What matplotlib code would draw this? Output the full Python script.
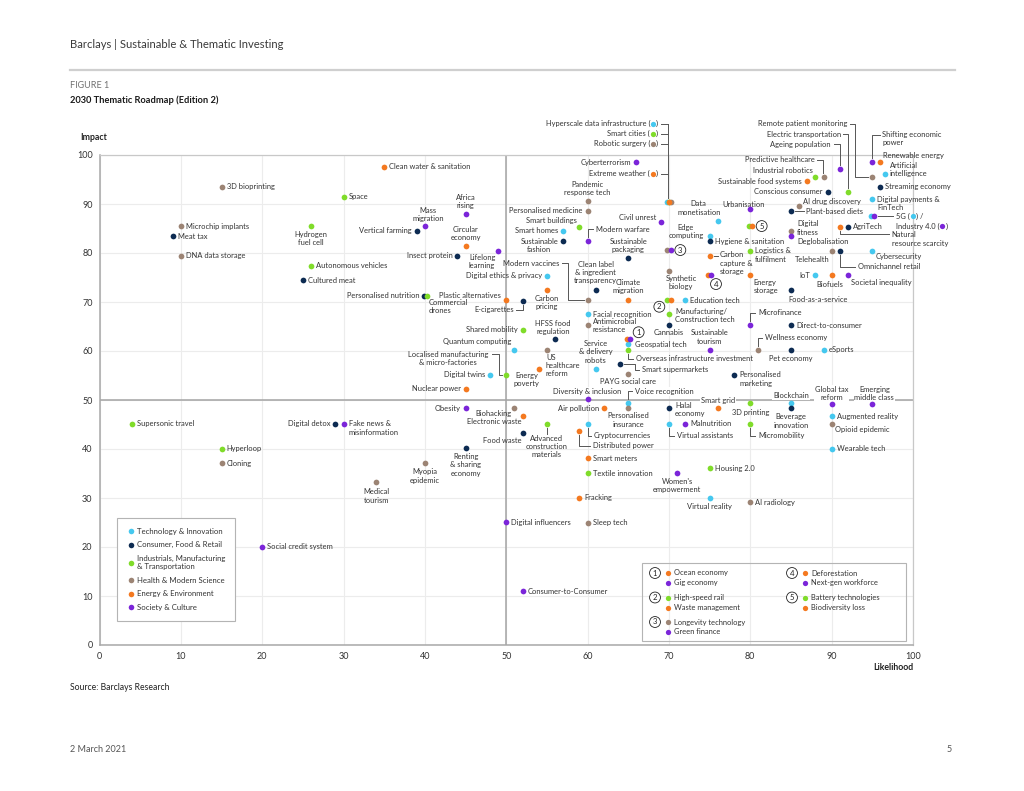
"""Barclays 2030 Thematic Roadmap (Edition 2): likelihood vs impact scatter."""

import matplotlib

matplotlib.use("Agg")
import matplotlib.pyplot as plt
from matplotlib.lines import Line2D
from matplotlib.patches import Rectangle
from matplotlib.transforms import IdentityTransform

W, H = 1024, 791
plt.rcParams["font.family"] = ["Lato", "DejaVu Sans"]

TXT = "#333333"
FS = 5.4
PX = IdentityTransform()

SECTOR_NAMES = [
    "Technology & Innovation",
    "Consumer, Food & Retail",
    "Industrials, Manufacturing\n& Transportation",
    "Health & Modern Science",
    "Energy & Environment",
    "Society & Culture",
]
SECTOR_COLORS = ["#45c8ef", "#0d2b52", "#80dc2a", "#9c8474", "#f47920", "#7b25d9"]

# ---- data: (likelihood, impact) per theme, one block per sector ----
tech_themes = [
    "Hyperscale data infrastructure", "Artificial intelligence", "Digital payments & FinTech", "5G",
    "Data monetisation", "Smart homes", "Edge computing", "Cybersecurity", "Digital ethics & privacy",
    "IoT", "Education tech", "Facial recognition", "Quantum computing", "Geospatial tech", "eSports",
    "Service & delivery robots", "Digital twins", "Voice recognition", "Blockchain", "Augmented reality",
    "Cryptocurrencies", "Virtual assistants", "Wearable tech", "Virtual reality",
]
tech_likelihood = [69.8, 96.5, 95, 94.8, 76, 57, 75, 95, 55, 88, 72, 60, 51, 65, 89, 61, 48, 65, 85, 90, 60, 70, 90, 75]
tech_impact = [90.5, 96.1, 91, 87.5, 86.6, 84.5, 83.5, 80.5, 75.4, 75.5, 70.4, 67.5, 60.3, 61.4, 60.3,
               56.4, 55.2, 49.3, 49.3, 46.7, 45.2, 45.2, 40.1, 30.1]

consumer_themes = [
    "Conscious consumer", "Streaming economy", "Plant-based diets", "Vertical farming", "AgriTech",
    "Meat tax", "Sustainable fashion", "Hygiene & sanitation", "Insect protein", "Sustainable packaging",
    "Omnichannel retail", "Cultured meat", "Clean label & ingredient transparency", "Food-as-a-service",
    "Personalised nutrition", "E-cigarettes", "Cannabis", "Direct-to-consumer", "HFSS food regulation",
    "Pet economy", "Smart supermarkets", "Personalised marketing", "Halal economy", "Beverage innovation",
    "Digital detox", "Food waste", "Renting & sharing economy",
]
consumer_likelihood = [89.5, 96, 85, 39, 92, 9, 57, 75, 44, 65, 91, 25, 61, 85, 39.9, 52, 70, 85, 56, 85,
                       64, 78, 70, 85, 29, 52, 45]
consumer_impact = [92.5, 93.5, 88.5, 84.5, 85.4, 83.4, 82.4, 82.4, 79.4, 79, 80.5, 74.4, 72.4, 72.4, 71.3,
                   70.3, 65.4, 65.3, 62.4, 60.3, 57.3, 55.2, 48.3, 48.3, 45.2, 43.2, 40.3]

industrial_themes = [
    "Smart cities", "Industrial robotics", "Electric transportation", "Space", "Smart buildings",
    "Hydrogen fuel cell", "Logistics & fulfilment", "Autonomous vehicles", "Commercial drones",
    "Manufacturing/Construction tech", "Shared mobility", "Overseas infrastructure investment",
    "Localised manufacturing & micro-factories", "3D printing", "Supersonic travel",
    "Advanced construction materials", "Micromobility", "Hyperloop", "Housing 2.0", "Textile innovation",
    "High-speed rail", "Battery technologies",
]
industrial_likelihood = [70, 88, 92, 30, 59, 26, 80, 26, 40.2, 70, 52, 65, 50, 80, 4, 55, 80, 15, 75, 60, 69.8, 79.8]
industrial_impact = [90.5, 95.6, 92.5, 91.5, 85.4, 85.5, 80.5, 77.4, 71.3, 67.5, 64.3, 60.3, 55.2, 49.3,
                     45.2, 45.2, 45.2, 40.1, 36.1, 35.1, 70.4, 85.5]

health_themes = [
    "Robotic surgery", "Remote patient monitoring", "Predictive healthcare", "3D bioprinting",
    "Pandemic response tech", "Personalised medicine", "AI drug discovery", "Microchip implants",
    "Digital fitness", "Telehealth", "DNA data storage", "Synthetic biology", "Modern vaccines",
    "Antimicrobial resistance", "US healthcare reform", "Wellness economy", "PAYG social care", "Biohacking",
    "Personalised insurance", "Opioid epidemic", "Cloning", "Myopia epidemic", "Medical tourism",
    "AI radiology", "Sleep tech", "Longevity technology",
]
health_likelihood = [70.2, 95, 89, 15, 60, 60, 86, 10, 85, 90, 10, 70, 60, 60, 55, 81, 65, 51, 65, 90, 15,
                     40, 34, 80, 60, 69.8]
health_impact = [90.5, 95.6, 95.6, 93.5, 90.6, 88.6, 89.5, 85.5, 84.5, 80.5, 79.4, 76.4, 70.4, 65.4, 60.3,
                 60.3, 55.3, 48.3, 48.3, 45.2, 37.1, 37.2, 33.2, 29.1, 25, 80.6]

energy_themes = [
    "Clean water & sanitation", "Extreme weather", "Renewable energy", "Sustainable food systems",
    "Circular economy", "Natural resource scarcity", "Carbon capture & storage", "Energy storage",
    "Biofuels", "Carbon pricing", "Climate migration", "Plastic alternatives", "Energy poverty",
    "Nuclear power", "Air pollution", "Smart grid", "Electronic waste", "Distributed power",
    "Smart meters", "Fracking", "Ocean economy", "Waste management", "Deforestation", "Biodiversity loss",
]
energy_likelihood = [35, 70, 96, 87, 45, 91, 75, 80, 90, 55, 65, 50, 54, 45, 62, 76, 52, 59, 60, 59,
                     64.8, 70.2, 74.8, 80.2]
energy_impact = [97.6, 90.5, 98.6, 94.6, 81.4, 85.4, 79.4, 75.6, 75.5, 72.4, 70.4, 70.4, 56.3, 52.3, 48.3,
                 48.3, 46.8, 43.7, 38.1, 30.1, 62.4, 70.4, 75.5, 85.5]

society_themes = [
    "Cyberterrorism", "Ageing population", "Shifting economic power", "Industry 4.0", "Africa rising",
    "Urbanisation", "Civil unrest", "Mass migration", "Modern warfare", "Deglobalisation",
    "Lifelong learning", "Societal inequality", "Microfinance", "Sustainable tourism",
    "Diversity & inclusion", "Global tax reform", "Emerging middle class", "Obesity",
    "Fake news & misinformation", "Malnutrition", "Women's empowerment", "Digital influencers",
    "Social credit system", "Consumer-to-Consumer", "Gig economy", "Green finance", "Next-gen workforce",
]
society_likelihood = [66, 91, 95, 95.2, 45, 80, 69, 40, 60, 85, 49, 92, 80, 75, 60, 90, 95, 45, 30, 72, 71,
                      50, 20, 52, 65.2, 70.2, 75.2]
society_impact = [98.5, 97.1, 98.6, 87.5, 88, 89, 86.3, 85.5, 82.4, 83.5, 80.5, 75.5, 65.4, 60.3, 50.3, 49.2,
                  49.2, 48.3, 45.2, 45.2, 35.2, 25.1, 20, 11, 62.4, 80.6, 75.5]

SECTORS = [
    (tech_themes, tech_likelihood, tech_impact),
    (consumer_themes, consumer_likelihood, consumer_impact),
    (industrial_themes, industrial_likelihood, industrial_impact),
    (health_themes, health_likelihood, health_impact),
    (energy_themes, energy_likelihood, energy_impact),
    (society_themes, society_likelihood, society_impact),
]

# themes grouped under a circled number
CLUSTERS = [
    ("1", ["Ocean economy", "Gig economy"]),
    ("2", ["High-speed rail", "Waste management"]),
    ("3", ["Longevity technology", "Green finance"]),
    ("4", ["Deforestation", "Next-gen workforce"]),
    ("5", ["Battery technologies", "Biodiversity loss"]),
]

# ---- label layout: text, offset in pixels from the dot, alignment ----
LABELS = {
    "Artificial intelligence": ("Artificial\nintelligence", 5, 4.5, "left", "center"),
    "Digital payments & FinTech": ("Digital payments &\nFinTech", 5, -4.5, "left", "center"),
    "Data monetisation": ("Data\nmonetisation", -19, 5, "center", "bottom"),
    "Smart homes": "l",
    "Edge computing": ("Edge\ncomputing", -6, 4, "right", "center"),
    "Cybersecurity": ("Cybersecurity", 3, -6, "left", "center"),
    "Digital ethics & privacy": "l",
    "IoT": "l",
    "Quantum computing": ("Quantum computing", -3, 7.6, "right", "center"),
    "Geospatial tech": ("Geospatial tech", 7, 0, "left", "center"),
    "Service & delivery robots": ("Service\n& delivery\nrobots", 0, 5, "center", "bottom"),
    "Digital twins": "l",
    "Voice recognition": ("Voice recognition", 7, 12, "left", "center"),
    "Blockchain": ("Blockchain", 0, 7.6, "center", "center"),
    "Cryptocurrencies": ("Cryptocurrencies", 6, -12, "left", "center"),
    "Virtual assistants": ("Virtual assistants", 8, -12, "left", "center"),
    "Virtual reality": ("Virtual reality", 0, -9, "center", "center"),
    "Conscious consumer": "l",
    "Plant-based diets": ("Plant-based diets", 15, 0, "left", "center"),
    "Vertical farming": "l",
    "Sustainable fashion": ("Sustainable\nfashion", -5, -4.5, "right", "center"),
    "Insect protein": "l",
    "Sustainable packaging": ("Sustainable\npackaging", 0, 5, "center", "bottom"),
    "Omnichannel retail": ("Omnichannel retail", 18, -16.3, "left", "center"),
    "Clean label & ingredient transparency": ("Clean label\n& ingredient\ntransparency", 0, 6, "center", "bottom"),
    "Food-as-a-service": ("Food-as-a-service", -3, -9, "left", "center"),
    "Personalised nutrition": "l",
    "E-cigarettes": ("E-cigarettes", -9, -9, "right", "center"),
    "Cannabis": ("Cannabis", 0, -8, "center", "center"),
    "HFSS food regulation": ("HFSS food\nregulation", -2, 4, "center", "bottom"),
    "Pet economy": ("Pet economy", 0, -9, "center", "center"),
    "Smart supermarkets": ("Smart supermarkets", 22, -5.7, "left", "center"),
    "Personalised marketing": ("Personalised\nmarketing", 5, -4.5, "left", "center"),
    "Halal economy": ("Halal\neconomy", 6, -1, "left", "center"),
    "Beverage innovation": ("Beverage\ninnovation", 0, -5, "center", "top"),
    "Digital detox": "l",
    "Food waste": ("Food waste", -1, -6.7, "right", "center"),
    "Renting & sharing economy": ("Renting\n& sharing\neconomy", 0, -5.6, "center", "top"),
    "Industrial robotics": ("Industrial robotics", -3, 6, "right", "center"),
    "Electric transportation": ("Electric transportation", -7, 57.7, "right", "center"),
    "Smart buildings": ("Smart buildings", -3, 6, "right", "center"),
    "Hydrogen fuel cell": ("Hydrogen\nfuel cell", 0, -5, "center", "top"),
    "Logistics & fulfilment": ("Logistics &\nfulfilment", 5, -4.5, "left", "center"),
    "Commercial drones": ("Commercial\ndrones", 2, -3, "left", "top"),
    "Manufacturing/Construction tech": ("Manufacturing/\nConstruction tech", 6, -1, "left", "center"),
    "Shared mobility": "l",
    "Overseas infrastructure investment": ("Overseas infrastructure investment", 8, -9, "left", "center"),
    "Localised manufacturing & micro-factories": ("Localised manufacturing\n& micro-factories", -17.7, 16, "right", "center"),
    "3D printing": ("3D printing", 0.5, -9, "center", "center"),
    "Advanced construction materials": ("Advanced\nconstruction\nmaterials", 0, -11, "center", "top"),
    "Micromobility": ("Micromobility", 8, -12, "left", "center"),
    "Remote patient monitoring": ("Remote patient monitoring", -25, 52.7, "right", "center"),
    "Predictive healthcare": ("Predictive healthcare", -9, 16.7, "right", "center"),
    "Pandemic response tech": ("Pandemic\nresponse tech", 0, 5, "center", "bottom"),
    "Personalised medicine": "l",
    "AI drug discovery": ("AI drug discovery", 4, 5, "left", "center"),
    "Digital fitness": ("Digital\nfitness", 6, 3, "left", "center"),
    "Telehealth": ("Telehealth", -19, -9, "center", "center"),
    "Synthetic biology": ("Synthetic\nbiology", 12, -4, "center", "top"),
    "Modern vaccines": ("Modern vaccines", -28, 37, "right", "center"),
    "Antimicrobial resistance": ("Antimicrobial\nresistance", 5, -1, "left", "center"),
    "US healthcare reform": ("US\nhealthcare\nreform", -1, -4, "left", "top"),
    "Wellness economy": ("Wellness economy", 7, 12, "left", "center"),
    "PAYG social care": ("PAYG social care", 0, -7.7, "center", "center"),
    "Biohacking": ("Biohacking", -3, -5, "right", "center"),
    "Personalised insurance": ("Personalised\ninsurance", 0, -4, "center", "top"),
    "Opioid epidemic": ("Opioid epidemic", 3, -6, "left", "center"),
    "Myopia epidemic": ("Myopia\nepidemic", 0, -5.6, "center", "top"),
    "Medical tourism": ("Medical\ntourism", 0, -6, "center", "top"),
    "Renewable energy": ("Renewable energy", 3, 6, "left", "center"),
    "Sustainable food systems": "l",
    "Circular economy": ("Circular\neconomy", 0, 5, "center", "bottom"),
    "Natural resource scarcity": ("Natural\nresource scarcity", 52, -4.9, "left", "top"),
    "Carbon capture & storage": ("Carbon\ncapture &\nstorage", 10, 4.5, "left", "top"),
    "Energy storage": ("Energy\nstorage", 3, -4, "left", "top"),
    "Biofuels": ("Biofuels", -2, -9, "center", "center"),
    "Carbon pricing": ("Carbon\npricing", 0, -5, "center", "top"),
    "Climate migration": ("Climate\nmigration", 0, 6, "center", "bottom"),
    "Plastic alternatives": ("Plastic alternatives", -5, 5, "right", "center"),
    "Energy poverty": ("Energy\npoverty", -12, -3, "center", "top"),
    "Nuclear power": "l",
    "Air pollution": "l",
    "Smart grid": ("Smart grid", 0, 7.6, "center", "center"),
    "Electronic waste": ("Electronic waste", -1, -6.3, "right", "center"),
    "Distributed power": ("Distributed power", 14, -14.7, "left", "center"),
    "Cyberterrorism": "l",
    "Ageing population": ("Ageing population", -9, 25, "right", "center"),
    "Shifting economic power": ("Shifting economic\npower", 10, 31, "left", "top"),
    "Africa rising": ("Africa\nrising", 0, 5, "center", "bottom"),
    "Urbanisation": ("Urbanisation", -7, 4.7, "center", "center"),
    "Civil unrest": ("Civil unrest", -4, 5, "right", "center"),
    "Mass migration": ("Mass\nmigration", 3, 4, "center", "bottom"),
    "Modern warfare": ("Modern warfare", 8, 12, "left", "center"),
    "Deglobalisation": ("Deglobalisation", 6, -6, "left", "center"),
    "Lifelong learning": ("Lifelong\nlearning", -16, -3, "center", "top"),
    "Societal inequality": ("Societal inequality", 3, -7, "left", "center"),
    "Microfinance": ("Microfinance", 8, 12, "left", "center"),
    "Sustainable tourism": ("Sustainable\ntourism", 0, 5, "center", "bottom"),
    "Diversity & inclusion": ("Diversity & inclusion", 0, 7.3, "center", "center"),
    "Global tax reform": ("Global tax\nreform", 0, 3, "center", "bottom"),
    "Emerging middle class": ("Emerging\nmiddle class", 2, 3, "center", "bottom"),
    "Obesity": "l",
    "Fake news & misinformation": ("Fake news &\nmisinformation", 5, -4.5, "left", "center"),
    "Women's empowerment": ("Women's\nempowerment", 0, -5, "center", "top"),
}
UNLABELLED = {"Hyperscale data infrastructure", "Smart cities", "Robotic surgery", "Extreme weather",
              "5G", "Industry 4.0"} | {n for _, names in CLUSTERS for n in names}
BOXED = {"Blockchain", "Smart grid", "Diversity & inclusion", "Global tax reform", "Emerging middle class",
         "Voice recognition"}

# leader lines, pixel offsets from the dot
CONNECTORS = {
    "Voice recognition": [(0, 4), (0, 12), (4, 12)],
    "Cryptocurrencies": [(0, -4), (0, -12), (3, -12)],
    "Virtual assistants": [(0, -4), (0, -12), (5, -12)],
    "Plant-based diets": [(4, 0), (13, 0)],
    "Omnichannel retail": [(0, -4), (0, -16.3), (15, -16.3)],
    "E-cigarettes": [(0, -4), (0, -9), (-7, -9)],
    "Smart supermarkets": [(4, 0), (15, 0), (15, -5.7), (19, -5.7)],
    "Electric transportation": [(-5, 57.7), (0.5, 57.7), (0.5, 4)],
    "Overseas infrastructure investment": [(0, -4), (0, -9), (5, -9)],
    "Localised manufacturing & micro-factories": [(-14.7, 20.3), (-7.4, 20.3), (-7.4, 0), (-4, 0)],
    "Advanced construction materials": [(0, -4), (0, -10)],
    "Micromobility": [(0, -4), (0, -12), (5, -12)],
    "Remote patient monitoring": [(-22, 52.7), (-17, 52.7), (-17, 0), (-4, 0)],
    "Predictive healthcare": [(-7, 16.7), (-1, 16.7), (-1, 4)],
    "Modern vaccines": [(-26, 37), (-20, 37), (-20, 0), (-4, 0)],
    "Wellness economy": [(0, 4), (0, 12), (4, 12)],
    "Natural resource scarcity": [(0, -4), (0, -7.4), (49, -7.4)],
    "Carbon capture & storage": [(4, 0), (8, 0)],
    "Distributed power": [(0, -4), (0, -14.7), (11, -14.7)],
    "Ageing population": [(-6, 25), (0, 25), (0, 4)],
    "Shifting economic power": [(0, 4), (0, 26.7), (8, 26.7)],
    "Modern warfare": [(0, 4), (0, 12), (5, 12)],
    "Microfinance": [(0, 4), (0, 12), (5, 12)],
    "5G": [(7, 0), (22, 0)],
}
# keyed labels stacked above the (70, 90) cluster: text, sector index, height above dot (px)
TOP_KEYS = [
    ("Hyperscale data infrastructure", 0, 77.7),
    ("Smart cities", 2, 67.7),
    ("Robotic surgery", 3, 57.7),
    ("Extreme weather", 4, 27.7),
]
# circled number offsets (px) from the first cluster member
TAG_OFFSETS = {"1": (12, 7), "2": (-8, -6.7), "3": (13, 0), "4": (8, -9), "5": (13, 0)}

fig = plt.figure(figsize=(W / 100, H / 100), dpi=100)
ax = fig.add_axes([99.5 / W, (H - 645) / H, 813.5 / W, 490 / H])
ax.set_xlim(0, 100)
ax.set_ylim(0, 100)
ax.set_xticks(range(0, 101, 10))
ax.set_yticks(range(0, 101, 10))
ax.grid(True, color="#ececec", lw=0.8, zorder=0)
ax.set_axisbelow(True)
ax.axvline(50, color="#a4a4a4", lw=1.1, zorder=1)
ax.axhline(50, color="#a4a4a4", lw=1.1, zorder=1)
ax.tick_params(length=0, labelsize=6.5, labelcolor=TXT, pad=5)
for side, sp in ax.spines.items():
    sp.set_color("#a8a8a8" if side in ("left", "bottom") else "#c8c8c8")
    sp.set_linewidth(1.1 if side in ("left", "bottom") else 0.9)

position = {}
for (names, xs, ys), color in zip(SECTORS, SECTOR_COLORS):
    ax.scatter(xs, ys, s=17, color=color, linewidths=0, zorder=5)
    for n, x, y in zip(names, xs, ys):
        position[n] = (x, y)


def dot_px(name):
    return ax.transData.transform(position[name])


def line_px(xs, ys, color="#555555", lw=0.7):
    fig.add_artist(Line2D(xs, ys, transform=PX, color=color, lw=lw))


for names, _, _ in SECTORS:
    for n in names:
        if n in UNLABELLED:
            continue
        spec = LABELS.get(n, "r")
        if spec == "r":
            spec = (n, 5, 0, "left", "center")
        elif spec == "l":
            spec = (n, -5, 0, "right", "center")
        text, dx, dy, ha, va = spec
        box = dict(boxstyle="square,pad=0.1", fc="white", ec="none") if n in BOXED else None
        ax.annotate(text, position[n], xytext=(dx, dy), textcoords="offset pixels", ha=ha, va=va,
                    multialignment="center" if ha != "left" else "left", fontsize=FS, color=TXT,
                    linespacing=1.2, bbox=box, zorder=4, annotation_clip=False)

for n, path in CONNECTORS.items():
    x0, y0 = dot_px(n)
    line_px([x0 + dx for dx, _ in path], [y0 + dy for _, dy in path])

renderer = fig.canvas.get_renderer()


def text_width(s):
    t = fig.text(0, 0, s, fontsize=FS)
    w = t.get_window_extent(renderer).width
    t.remove()
    return w


def rich_text(x, y, parts, align="left"):
    widths = [text_width(p) if isinstance(p, str) else 6.0 for p in parts]
    cur = x - sum(widths) if align == "right" else x
    for p, w in zip(parts, widths):
        if isinstance(p, str):
            fig.text(cur, y, p, transform=PX, fontsize=FS, color=TXT, ha="left", va="center")
        else:
            fig.add_artist(Line2D([cur + w / 2], [y], transform=PX, ls="", marker="o", ms=3.8,
                                  mew=0, color=p[1]))
        cur += w


cx, cy = dot_px("Hyperscale data infrastructure")
for text, si, dy in TOP_KEYS:
    rich_text(cx - 9, cy + dy, [text + " (", ("dot", SECTOR_COLORS[si]), ")"], align="right")
    line_px([cx - 6, cx + 0.7], [cy + dy, cy + dy])
line_px([cx + 0.7, cx + 0.7], [cy + TOP_KEYS[0][2], cy + 4])

gx, gy = dot_px("5G")
rich_text(gx + 25, gy, ["5G (", ("dot", SECTOR_COLORS[0]), ") /"])
rich_text(gx + 25, gy - 10, ["Industry 4.0 (", ("dot", SECTOR_COLORS[5]), ")"])


def circled(x, y, num):
    fig.text(x, y, num, transform=PX, fontsize=5.6, color="#222222", ha="center", va="center",
             bbox=dict(boxstyle="circle,pad=0.25", fc="white", ec="#222222", lw=0.6), zorder=6)


for num, names in CLUSTERS:
    x0, y0 = dot_px(names[0])
    dx, dy = TAG_OFFSETS[num]
    circled(x0 + dx, y0 + dy, num)

# category legend
handles = [Line2D([], [], ls="", marker="o", ms=4, mew=0, color=c) for c in SECTOR_COLORS]
leg = ax.legend(handles, SECTOR_NAMES, loc="upper left", bbox_to_anchor=(0.0219, 0.26), fontsize=5.6,
                frameon=True, fancybox=False, edgecolor="#b4b4b4", borderpad=1.3, labelspacing=0.85,
                handlelength=0.8, handletextpad=0.4, borderaxespad=0, framealpha=1)
leg.get_frame().set_linewidth(0.8)
for t in leg.get_texts():
    t.set_color(TXT)
    t.set_linespacing(1.2)

# circled-cluster key, bottom right
fig.add_artist(Rectangle((642, H - 641), 264, 78, transform=PX, fill=False, ec="#b4b4b4", lw=0.8))
sector_of = {n: SECTOR_COLORS[i] for i, (names, _, _) in enumerate(SECTORS) for n in names}
key_cols = [(655, ["1", "2", "3"]), (792, ["4", "5"])]
cluster_names = dict(CLUSTERS)
for kx, nums in key_cols:
    for row, num in enumerate(nums):
        ky = 573 + row * 24.5
        circled(kx, H - ky, num)
        for k, n in enumerate(cluster_names[num]):
            yy = H - (ky + 10 * k)
            fig.add_artist(Line2D([kx + 13], [yy], transform=PX, ls="", marker="o", ms=3.8, mew=0,
                                  color=sector_of[n]))
            fig.text(kx + 19, yy, n, transform=PX, fontsize=FS, color=TXT, ha="left", va="center")

# axis titles and page furniture
fig.text(80, H - 138, "Impact", transform=PX, fontsize=6.3, fontweight="bold", color="#222222", va="center")
fig.text(913, H - 667, "Likelihood", transform=PX, fontsize=6.3, fontweight="bold", color="#222222",
         ha="right", va="center")
fig.text(70, H - 45, "Barclays | Sustainable & Thematic Investing", transform=PX, fontsize=8.1,
         color="#3a3a3a", va="center")
line_px([70, 955], [H - 70, H - 70], color="#cfcfcf", lw=1.6)
fig.text(70, H - 86, "FIGURE 1", transform=PX, fontsize=6.5, color="#707070", va="center")
fig.text(70, H - 100, "2030 Thematic Roadmap (Edition 2)", transform=PX, fontsize=6.7, fontweight="bold",
         color="#1a1a1a", va="center")
fig.text(70, H - 688, "Source: Barclays Research", transform=PX, fontsize=6.2, color="#222222", va="center")
fig.text(70, H - 750, "2 March 2021", transform=PX, fontsize=6.5, color="#555555", va="center")
fig.text(952, H - 750, "5", transform=PX, fontsize=6.5, color="#555555", va="center", ha="right")

fig.savefig("out.png", dpi=100)
